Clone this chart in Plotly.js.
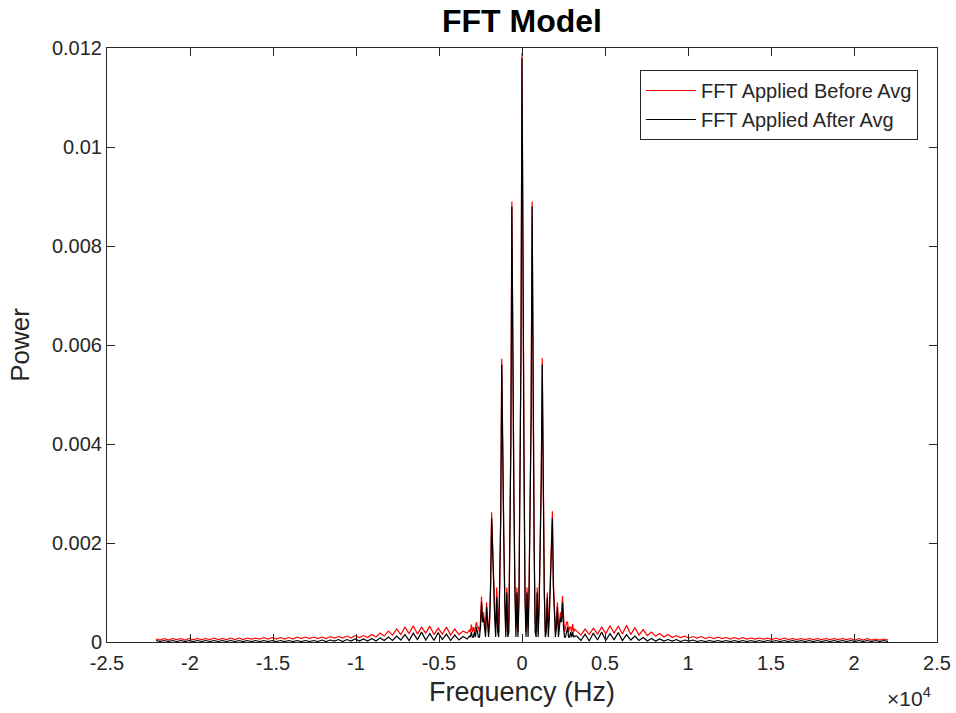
<!DOCTYPE html>
<html>
<head>
<meta charset="utf-8">
<script src="https://cdn.plot.ly/plotly-3.0.1.min.js"></script>
<style>html,body{margin:0;padding:0;background:#fff;}#chart{width:956px;height:713px;}</style>
</head>
<body>
<div id="chart"></div>
<script>
// ---------------- DATA ----------------
// Frequency bins: outer tails (coarse step) and central region (fine step), Hz
const TAIL_START_HZ = 3300;
const TAIL_STEP_HZ = 250;
const TAIL_COUNT = 76;
const CENTER_STEP_HZ = 61;
const CENTER_HALF_BINS = 52;

// "FFT Applied Before Avg" (red)
const beforeLeftTail = [
  0.00006,0.00004,0.00007,0.00004,0.00007,0.00005,0.00007,0.00004,0.00007,0.00005,
  0.00007,0.00005,0.00007,0.00005,0.00008,0.00005,0.00007,0.00005,0.00008,0.00005,
  0.00008,0.00005,0.00008,0.00006,0.00008,0.00006,0.00009,0.00006,0.00009,0.00006,
  0.00009,0.00006,0.00009,0.00006,0.00010,0.00007,0.00010,0.00007,0.00010,0.00007,
  0.00010,0.00007,0.00011,0.00008,0.00011,0.00008,0.00012,0.00008,0.00013,0.00009,
  0.00013,0.00009,0.00015,0.00010,0.00018,0.00012,0.00022,0.00014,0.00026,0.00015,
  0.00030,0.00017,0.00033,0.00016,0.00030,0.00018,0.00032,0.00015,0.00028,0.00016,
  0.00030,0.00014,0.00026,0.00015,0.00022,0.00018
];
const beforeCenterLeft = [
  0.00024,0.00020,0.00035,0.00020,0.00030,0.00020,0.00030,0.00040,0.00030,0.00030,
  0.00020,0.00040,0.00092,0.00050,0.00060,0.00040,0.00020,0.00080,0.00050,0.00020,
  0.00050,0.00120,0.00262,0.00160,0.00130,0.00060,0.00030,0.00110,0.00040,0.00020,
  0.00110,0.00260,0.00572,0.00330,0.00220,0.00090,0.00020,0.00110,0.00030,0.00040,
  0.00200,0.00410,0.00890,0.00460,0.00300,0.00120,0.00030,0.00110,0.00020,0.00100,
  0.00370,0.00600
];
const beforeCenterRight = [
  0.01190,0.00600,0.00370,0.00100,0.00020,0.00110,0.00030,0.00120,0.00300,0.00460,
  0.00890,0.00410,0.00200,0.00040,0.00030,0.00110,0.00020,0.00090,0.00220,0.00330,
  0.00573,0.00260,0.00110,0.00020,0.00040,0.00100,0.00030,0.00060,0.00130,0.00160,
  0.00264,0.00120,0.00050,0.00020,0.00050,0.00080,0.00030,0.00040,0.00060,0.00050,
  0.00093,0.00040,0.00020,0.00030,0.00040,0.00040,0.00020,0.00030,0.00030,0.00020,
  0.00036,0.00020,0.00026
];
const beforeRightTail = [
  0.00022,0.00014,0.00026,0.00015,0.00028,0.00016,0.00030,0.00017,0.00033,0.00018,
  0.00032,0.00016,0.00034,0.00015,0.00029,0.00014,0.00025,0.00013,0.00020,0.00012,
  0.00017,0.00010,0.00015,0.00009,0.00013,0.00009,0.00012,0.00008,0.00011,0.00008,
  0.00011,0.00007,0.00010,0.00007,0.00010,0.00007,0.00009,0.00006,0.00009,0.00006,
  0.00009,0.00006,0.00008,0.00006,0.00008,0.00006,0.00008,0.00005,0.00008,0.00005,
  0.00008,0.00005,0.00007,0.00005,0.00007,0.00005,0.00007,0.00005,0.00007,0.00005,
  0.00007,0.00005,0.00007,0.00005,0.00007,0.00005,0.00007,0.00004,0.00007,0.00004,
  0.00007,0.00004,0.00006,0.00004,0.00006,0.00004
];

// "FFT Applied After Avg" (black)
const afterLeftTail = [
  0.00003,0.00001,0.00003,0.00001,0.00003,0.00001,0.00003,0.00001,0.00003,0.00001,
  0.00003,0.00001,0.00003,0.00001,0.00003,0.00001,0.00003,0.00001,0.00003,0.00001,
  0.00003,0.00001,0.00003,0.00001,0.00003,0.00001,0.00003,0.00001,0.00003,0.00001,
  0.00003,0.00001,0.00003,0.00001,0.00003,0.00001,0.00003,0.00001,0.00003,0.00001,
  0.00004,0.00001,0.00004,0.00002,0.00005,0.00001,0.00005,0.00002,0.00006,0.00002,
  0.00006,0.00002,0.00007,0.00002,0.00008,0.00003,0.00010,0.00003,0.00012,0.00004,
  0.00015,0.00003,0.00018,0.00005,0.00020,0.00004,0.00017,0.00003,0.00019,0.00005,
  0.00016,0.00003,0.00014,0.00004,0.00011,0.00006
];
const afterCenterLeft = [
  0.00012,0.00010,0.00020,0.00010,0.00010,0.00020,0.00010,0.00030,0.00020,0.00010,
  0.00010,0.00030,0.00080,0.00040,0.00050,0.00030,0.00010,0.00070,0.00030,0.00010,
  0.00040,0.00110,0.00250,0.00150,0.00120,0.00050,0.00010,0.00090,0.00020,0.00010,
  0.00100,0.00250,0.00560,0.00320,0.00210,0.00080,0.00010,0.00100,0.00010,0.00020,
  0.00190,0.00400,0.00880,0.00450,0.00290,0.00100,0.00010,0.00100,0.00010,0.00080,
  0.00350,0.00580
];
const afterCenterRight = [
  0.01180,0.00580,0.00350,0.00080,0.00010,0.00100,0.00010,0.00100,0.00290,0.00450,
  0.00880,0.00400,0.00190,0.00020,0.00010,0.00100,0.00010,0.00080,0.00210,0.00320,
  0.00560,0.00250,0.00100,0.00010,0.00020,0.00090,0.00010,0.00050,0.00120,0.00150,
  0.00250,0.00110,0.00040,0.00010,0.00030,0.00070,0.00010,0.00030,0.00050,0.00040,
  0.00080,0.00030,0.00010,0.00010,0.00020,0.00030,0.00010,0.00010,0.00020,0.00010,
  0.00020,0.00010,0.00012
];
const afterRightTail = [
  0.00012,0.00003,0.00016,0.00002,0.00018,0.00004,0.00020,0.00003,0.00017,0.00005,
  0.00019,0.00003,0.00015,0.00004,0.00012,0.00003,0.00009,0.00002,0.00007,0.00002,
  0.00006,0.00002,0.00005,0.00002,0.00005,0.00001,0.00004,0.00002,0.00004,0.00001,
  0.00003,0.00001,0.00003,0.00001,0.00003,0.00001,0.00003,0.00001,0.00003,0.00001,
  0.00003,0.00001,0.00003,0.00001,0.00003,0.00001,0.00003,0.00001,0.00003,0.00001,
  0.00003,0.00001,0.00003,0.00001,0.00003,0.00001,0.00003,0.00001,0.00003,0.00001,
  0.00003,0.00001,0.00003,0.00001,0.00003,0.00001,0.00003,0.00001,0.00003,0.00001,
  0.00003,0.00001,0.00003,0.00001,0.00003,0.00001
];

const seriesNames = ['FFT Applied Before Avg', 'FFT Applied After Avg'];
const xTickValues = [-25000,-20000,-15000,-10000,-5000,0,5000,10000,15000,20000,25000];
const xTickLabels = ['-2.5','-2','-1.5','-1','-0.5','0','0.5','1','1.5','2','2.5'];

// ---------------- BUILD ----------------
const leftTailHz = [], centerHz = [], rightTailHz = [];
for (let i = TAIL_COUNT - 1; i >= 0; i--) leftTailHz.push(-(TAIL_START_HZ + i * TAIL_STEP_HZ));
for (let k = -CENTER_HALF_BINS; k <= CENTER_HALF_BINS; k++) centerHz.push(k * CENTER_STEP_HZ);
for (let i = 0; i < TAIL_COUNT; i++) rightTailHz.push(TAIL_START_HZ + i * TAIL_STEP_HZ);
const freqHz = leftTailHz.concat(centerHz, rightTailHz);

const beforePower = beforeLeftTail.concat(beforeCenterLeft, beforeCenterRight, beforeRightTail);
const afterPower = afterLeftTail.concat(afterCenterLeft, afterCenterRight, afterRightTail);

const axisColor = '#262626';
const traces = [
  {type:'scatter', mode:'lines', name:seriesNames[0], x:freqHz, y:beforePower,
   line:{color:'#ff0000', width:1.2}},
  {type:'scatter', mode:'lines', name:seriesNames[1], x:freqHz, y:afterPower,
   line:{color:'#000000', width:1.2}}
];

const commonAxis = {
  showgrid:false, zeroline:false, showline:true, linecolor:axisColor, linewidth:1,
  mirror:'allticks', ticks:'inside', ticklen:8, tickwidth:1, tickcolor:axisColor,
  tickfont:{size:20, color:axisColor}
};

const layout = {
  width:956, height:713,
  margin:{l:107, r:19, t:48, b:71, pad:0},
  paper_bgcolor:'#ffffff', plot_bgcolor:'#ffffff',
  font:{family:'"Liberation Sans", Arial, Helvetica, sans-serif', color:axisColor},
  showlegend:true,
  title:{text:'<b>FFT Model</b>', font:{size:32, color:'#000000'},
         x:0.5, xref:'paper', xanchor:'center', y:0.971, yref:'container', yanchor:'middle'},
  xaxis:Object.assign({}, commonAxis, {
    range:[-25000,25000], tickmode:'array', tickvals:xTickValues, ticktext:xTickLabels,
    ticklabelstandoff:3,
    title:{text:'Frequency (Hz)', font:{size:27, color:axisColor}, standoff:9}
  }),
  yaxis:Object.assign({}, commonAxis, {
    range:[0,0.012], tick0:0, dtick:0.002,
    title:{text:'Power', font:{size:26, color:axisColor}, standoff:14}
  }),
  legend:{x:0.977, y:0.963, xanchor:'right', yanchor:'top', bgcolor:'#ffffff',
          bordercolor:axisColor, borderwidth:1, font:{size:20, color:axisColor},
          itemwidth:50, tracegroupgap:0, entrywidth:290, entrywidthmode:'pixels'},
  annotations:[{xref:'paper', yref:'paper', x:1, y:-0.092, xanchor:'right', yanchor:'middle',
                xshift:-4, text:'×10<sup>4</sup>', showarrow:false, font:{size:21, color:axisColor}}]
};

Plotly.newPlot('chart', traces, layout, {displayModeBar:false, staticPlot:true});
</script>
</body>
</html>
